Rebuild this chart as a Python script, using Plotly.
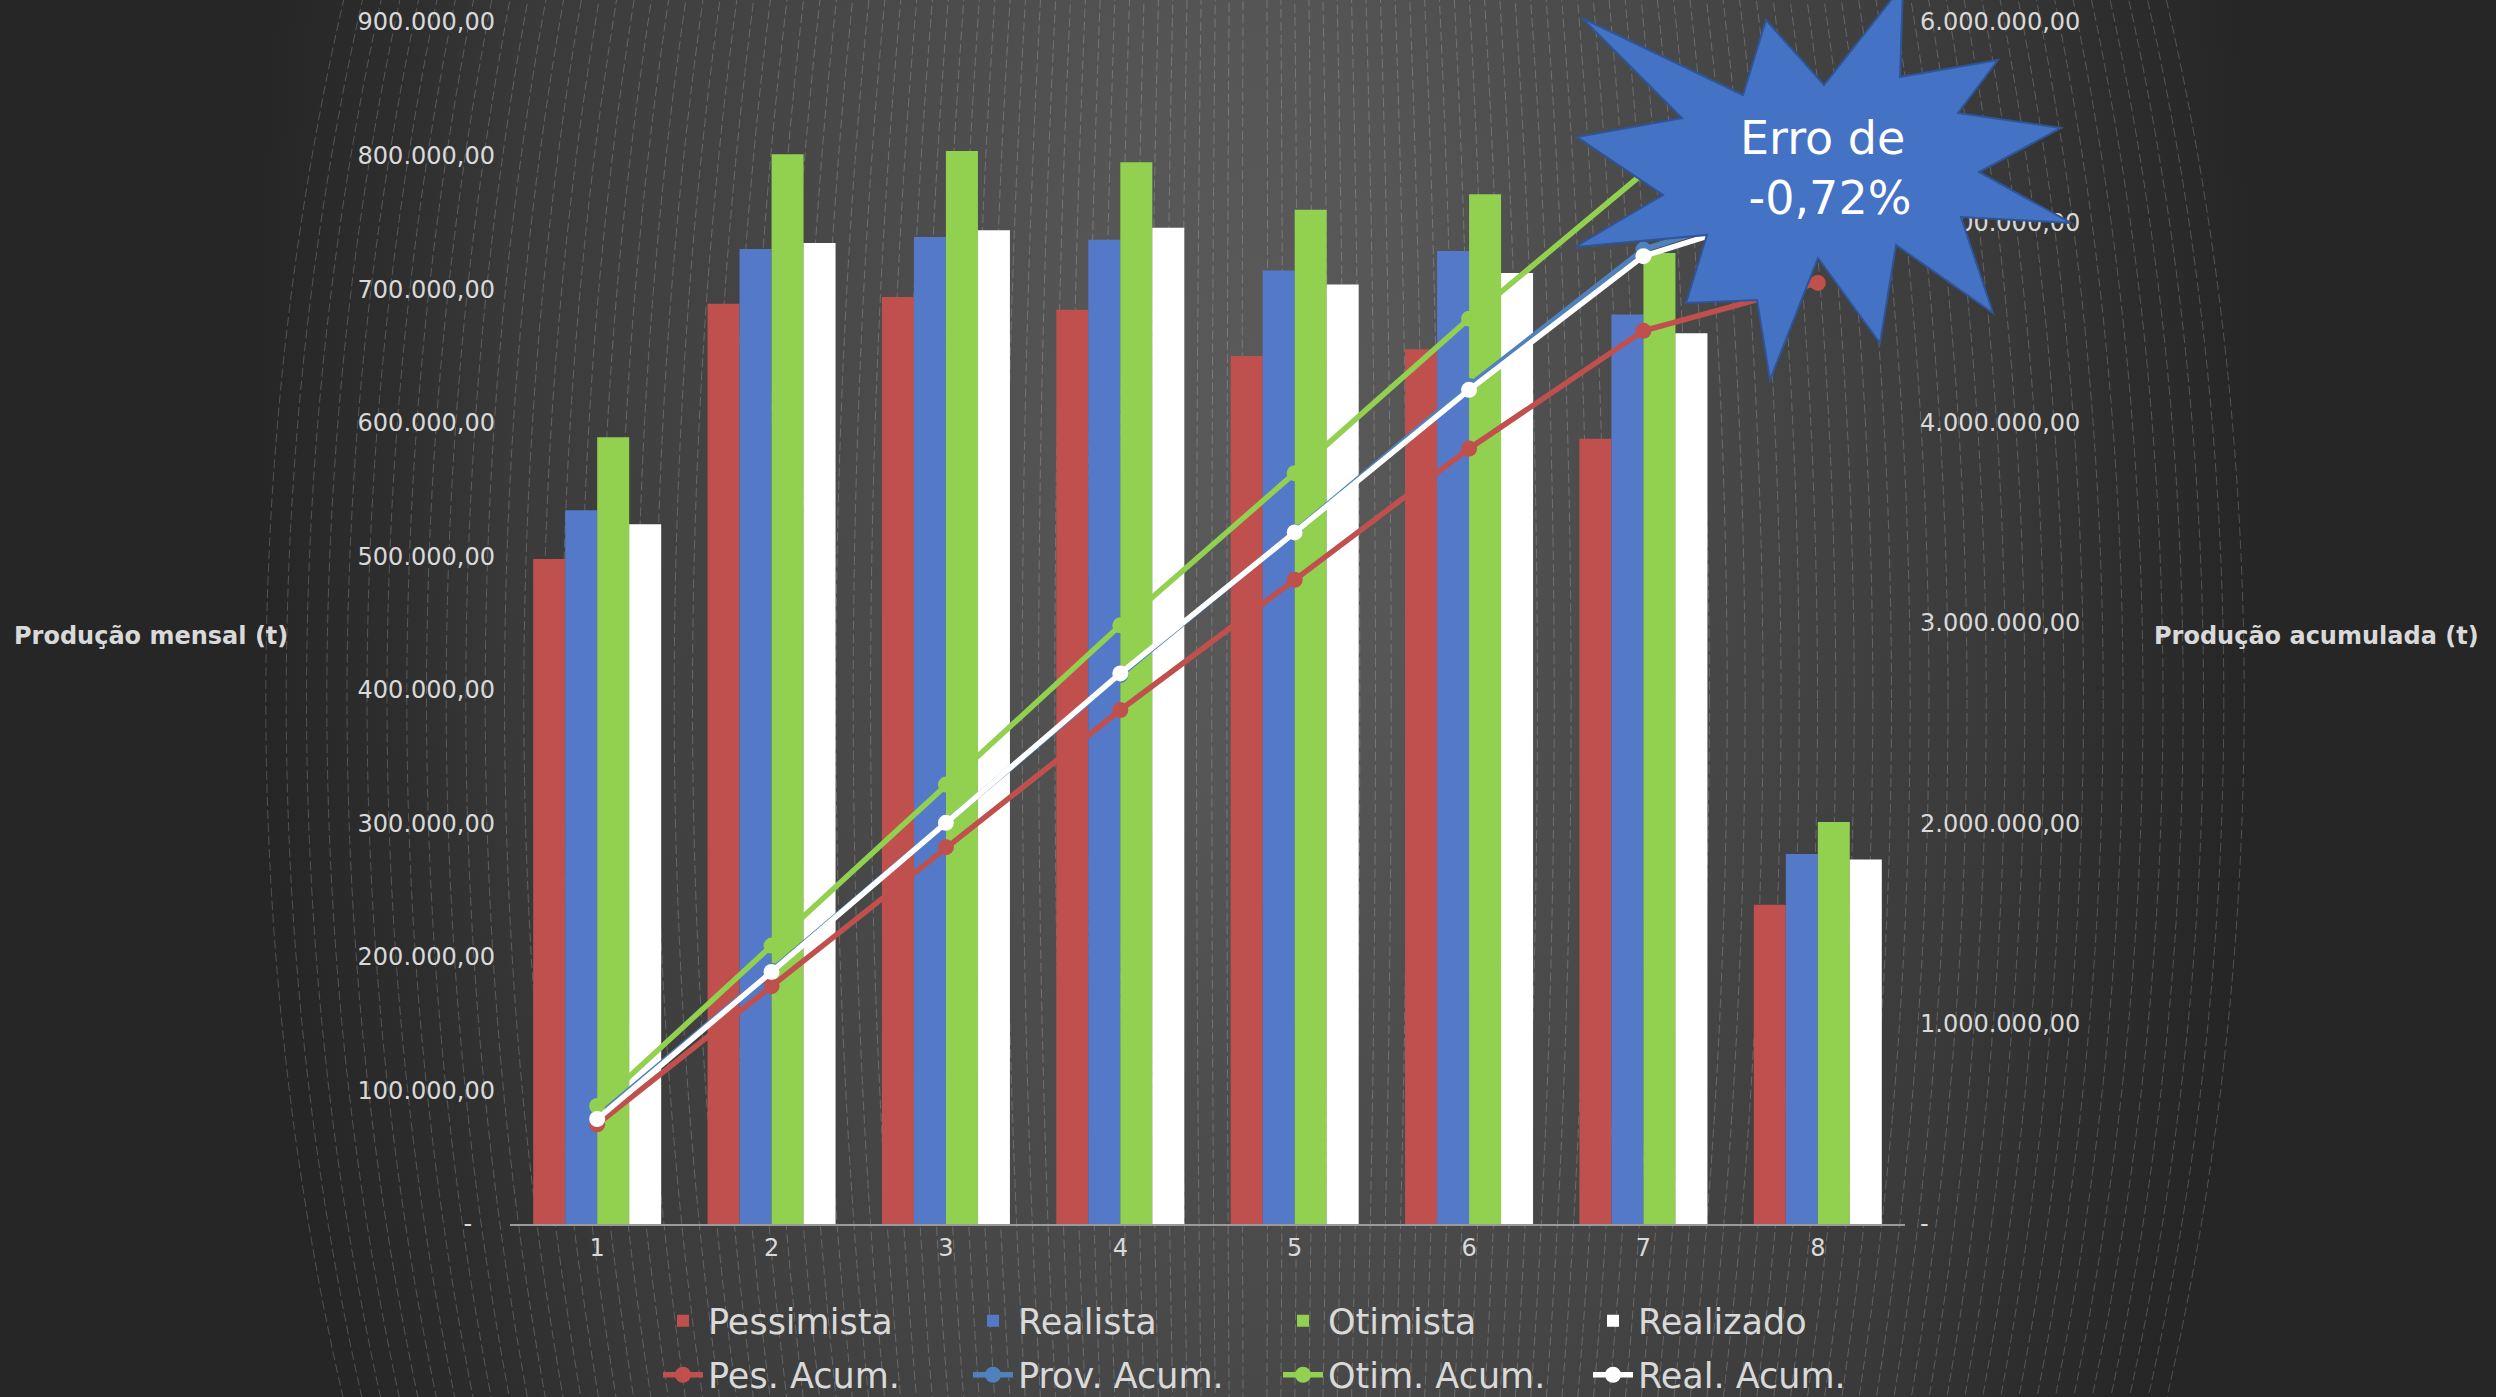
import base64
import plotly.graph_objects as go

# ---- data -------------------------------------------------------------
meses = [1, 2, 3, 4, 5, 6, 7, 8]

pessimista = [498000, 689000, 694000, 684500, 650000, 655000, 588000, 239000]
realista = [534500, 730000, 739000, 737000, 714000, 728500, 681000, 277000]
otimista = [589000, 801000, 803500, 795000, 759500, 771000, 727000, 301000]
realizado = [524000, 734500, 744000, 746000, 703500, 712000, 667000, 273000]

pes_acum = [498000, 1187000, 1881000, 2565500, 3215500, 3870500, 4458500, 4697500]
prov_acum = [534500, 1264500, 2003500, 2740500, 3454500, 4183000, 4864000, 5141000]
otim_acum = [589000, 1390000, 2193500, 2988500, 3748000, 4519000, 5246000, 5547000]
real_acum = [524000, 1258500, 2002500, 2748500, 3452000, 4164000, 4831000, 5104000]

ticks_mensal = [0, 100000, 200000, 300000, 400000, 500000, 600000, 700000, 800000, 900000]
labels_mensal = ["-\u00a0\u00a0\u00a0", "100.000,00", "200.000,00", "300.000,00", "400.000,00",
                 "500.000,00", "600.000,00", "700.000,00", "800.000,00", "900.000,00"]
ticks_acum = [0, 1000000, 2000000, 3000000, 4000000, 5000000, 6000000]
labels_acum = ["-", "1.000.000,00", "2.000.000,00", "3.000.000,00", "4.000.000,00",
               "5.000.000,00", "6.000.000,00"]

erro_texto = "Erro de<br> -0,72%"

# ---- geometry ---------------------------------------------------------
W, H = 2496, 1397
ML, MR, MT, MB = 510, 591, 22, 173
PW, PH = W - ML - MR, H - MT - MB
FONT = "DejaVu Sans"
TXT = "#d9d9d9"


def paper(px, py):
    return (px - ML) / PW, (H - MB - py) / PH


# ---- background: soft elliptical glow with dashed meridian curves ------
cx, cy = 1255, 700
ellipses = []
for k in range(56):
    rx = 13 + 15 * k + 0.05 * k * k
    ellipses.append(
        f"<ellipse cx='{cx}' cy='{cy}' rx='{rx:.1f}' ry='1800' fill='none' "
        f"stroke='#ffffff' stroke-opacity='0.2' stroke-width='1' stroke-dasharray='9 4'/>"
    )
svg = (
    f"<svg xmlns='http://www.w3.org/2000/svg' width='{W}' height='{H}' viewBox='0 0 {W} {H}'>"
    "<defs><radialGradient id='g' gradientUnits='userSpaceOnUse' cx='1255' cy='420' r='1000' "
    "gradientTransform='translate(1255 420) scale(1 2.2) translate(-1255 -420)'>"
    "<stop offset='0' stop-color='#5a5a5a'/>"
    "<stop offset='0.17' stop-color='#565656'/>"
    "<stop offset='0.3' stop-color='#4e4e4e'/>"
    "<stop offset='0.4' stop-color='#4a4a4a'/>"
    "<stop offset='0.74' stop-color='#3a3a3a'/>"
    "<stop offset='0.86' stop-color='#2e2e2e'/>"
    "<stop offset='1' stop-color='#262626'/>"
    "</radialGradient></defs>"
    f"<rect width='{W}' height='{H}' fill='url(#g)'/>"
    + "".join(ellipses)
    + "</svg>"
)
bg_src = "data:image/svg+xml;base64," + base64.b64encode(svg.encode()).decode()

# ---- traces -----------------------------------------------------------
fig = go.Figure()

bar_series = [
    ("Pessimista", pessimista, "#C0504D"),
    ("Realista", realista, "#5479C9"),
    ("Otimista", otimista, "#92D050"),
    ("Realizado", realizado, "#FFFFFF"),
]
for name, vals, color in bar_series:
    fig.add_trace(go.Bar(
        x=meses, y=vals, name=name, marker=dict(color=color, line=dict(width=0)),
        legend="legend",
    ))

line_series = [
    ("Pes. Acum.", pes_acum, "#C0504D"),
    ("Prov. Acum.", prov_acum, "#4F81BD"),
    ("Otim. Acum.", otim_acum, "#92D050"),
    ("Real. Acum.", real_acum, "#FFFFFF"),
]
for name, vals, color in line_series:
    fig.add_trace(go.Scatter(
        x=meses, y=vals, name=name, yaxis="y2", mode="lines+markers",
        line=dict(color=color, width=5.5), marker=dict(color=color, size=16),
        legend="legend2",
    ))

# ---- starburst callout -------------------------------------------------
star_px = [
    (1582, 18), (1743, 95), (1766, 20), (1824, 85), (1903, -15), (1900, 77),
    (1998, 60), (1958, 113), (2061, 128), (1979, 172), (2071, 223), (1961, 217),
    (1993, 313), (1896, 245), (1880, 343), (1818, 258), (1770, 380), (1757, 300),
    (1686, 303), (1707, 235), (1575, 247), (1663, 195), (1577, 137), (1682, 118),
]
pts = [paper(x, y) for x, y in star_px]
star_path = "M " + " L ".join(f"{x:.5f},{y:.5f}" for x, y in pts) + " Z"

tx, ty = paper(1822, 168)
lx, ly = paper(12, 636)
rx_, ry_ = paper(2152, 636)
leg1_x, leg1_y = paper(658, 1321)
leg2_x, leg2_y = paper(658, 1375)
img_x, img_y = paper(0, 0)

legend_common = dict(
    orientation="h", xanchor="left", yanchor="middle",
    font=dict(family=FONT, size=35, color=TXT),
    bgcolor="rgba(0,0,0,0)", entrywidth=255, entrywidthmode="pixels",
    traceorder="normal", itemwidth=40,
)

fig.update_layout(
    width=W, height=H,
    margin=dict(l=ML, r=MR, t=MT, b=MB, pad=0, autoexpand=False),
    paper_bgcolor="#262626",
    plot_bgcolor="rgba(0,0,0,0)",
    font=dict(family=FONT, color=TXT),
    barmode="group", bargap=0.266, bargroupgap=0,
    showlegend=True,
    legend=dict(x=leg1_x, y=leg1_y, **legend_common),
    legend2=dict(x=leg2_x, y=leg2_y, **legend_common),
    xaxis=dict(
        range=[0.5, 8.5], tickvals=meses, ticktext=[str(m) for m in meses],
        showgrid=False, zeroline=False, showline=True, linecolor="#9a9a9a", linewidth=2,
        ticks="", tickfont=dict(family=FONT, size=24, color=TXT), ticklabelstandoff=1,
    ),
    yaxis=dict(
        range=[0, 900000], tickvals=ticks_mensal, ticktext=labels_mensal,
        showgrid=False, zeroline=False, showline=False, ticks="",
        tickfont=dict(family=FONT, size=24, color=TXT), ticklabelstandoff=14,
    ),
    yaxis2=dict(
        range=[0, 6000000], tickvals=ticks_acum, ticktext=labels_acum,
        overlaying="y", side="right", showgrid=False, zeroline=False, showline=False,
        ticks="", tickfont=dict(family=FONT, size=24, color=TXT), ticklabelstandoff=14,
    ),
    images=[dict(
        source=bg_src, xref="paper", yref="paper", x=img_x, y=img_y,
        sizex=W / PW, sizey=H / PH, xanchor="left", yanchor="top",
        sizing="stretch", layer="below",
    )],
    shapes=[dict(
        type="path", path=star_path, xref="paper", yref="paper",
        fillcolor="#4472C4", line=dict(color="#2F5597", width=2), layer="above",
    )],
    annotations=[
        dict(text=erro_texto, x=tx, y=ty, xref="paper", yref="paper", showarrow=False,
             xanchor="center", yanchor="middle",
             font=dict(family=FONT, size=46, color="#FFFFFF")),
        dict(text="<b>Produção mensal (t)</b>", x=lx, y=ly, xref="paper", yref="paper",
             showarrow=False, xanchor="left", yanchor="middle",
             font=dict(family=FONT, size=24, color=TXT)),
        dict(text="<b>Produção acumulada (t)</b>", x=rx_, y=ry_, xref="paper", yref="paper",
             showarrow=False, xanchor="left", yanchor="middle",
             font=dict(family=FONT, size=24, color=TXT)),
    ],
)

fig.write_html("out.html")
